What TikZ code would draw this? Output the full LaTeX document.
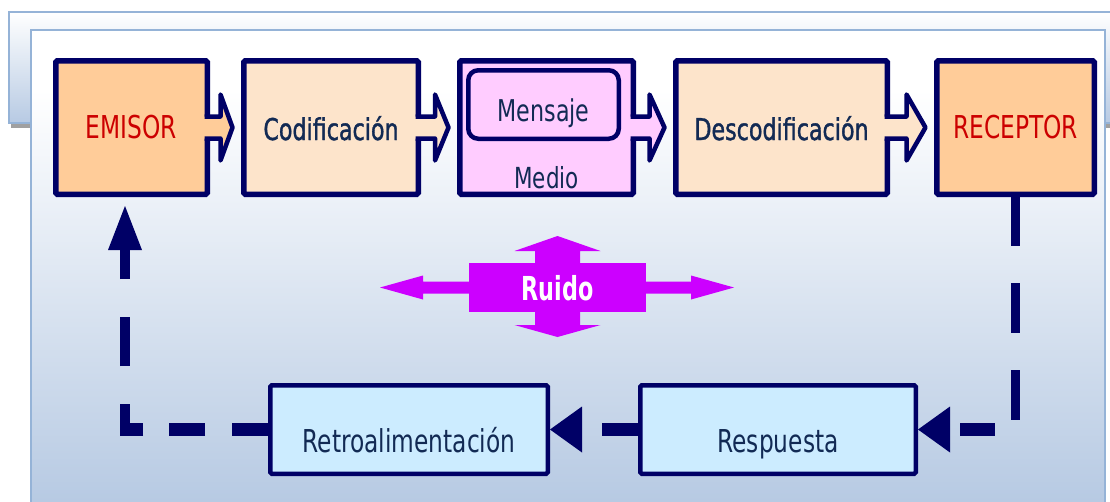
\documentclass[tikz,border=0pt]{standalone}
\usepackage{fontspec}
\usetikzlibrary{calc,arrows.meta}
\newfontfamily\labfont{DejaVu Sans}[FakeStretch=0.74]
\newfontfamily\labsemi{DejaVu Sans}[FakeStretch=0.74,FakeBold=1.2]
\newfontfamily\labbold{DejaVu Sans}[FakeStretch=0.675]

\definecolor{navy}{RGB}{0,0,102}
\definecolor{peach}{RGB}{255,204,153}
\definecolor{lightpeach}{RGB}{253,228,203}
\definecolor{pinkfill}{RGB}{255,204,255}
\definecolor{skyfill}{RGB}{204,236,255}
\definecolor{ruidofill}{RGB}{204,0,255}
\definecolor{labred}{RGB}{204,0,0}
\definecolor{labink}{RGB}{18,42,84}
\definecolor{panelline}{RGB}{149,179,215}
\definecolor{panelblue}{RGB}{183,202,227}
\definecolor{shadowgray}{RGB}{160,160,160}

% block arrow leaving box #1 towards box #2, filled with #3, shaft length #4
\newcommand\blockarrow[4]{%
  \fill[#3] ($(#1.east)+(-6,-11)$) -- ($(#1.east)+(#4,-11)$) -- ($(#1.east)+(#4,-33)$)
    -- ($(#2.west)+(-8.5,0)$) -- ($(#1.east)+(#4,33)$) -- ($(#1.east)+(#4,11)$)
    -- ($(#1.east)+(-6,11)$) -- cycle;
  \draw[chevline] ($(#1.east)+(-5.5,-11)$) -- ($(#1.east)+(#4,-11)$) -- ($(#1.east)+(#4,-33)$)
    -- ($(#2.west)+(-8.5,0)$) -- ($(#1.east)+(#4,33)$) -- ($(#1.east)+(#4,11)$)
    -- ($(#1.east)+(-5.5,11)$);}

\begin{document}
\begin{tikzpicture}[x=1pt, y=-1pt,
  topbox/.style={draw=navy, line width=5.5pt, rounded corners=1.5pt, inner sep=0pt,
    minimum height=133.5pt},
  redlabel/.style={text=labred, font=\labfont\fontsize{31.5}{36}\selectfont,
    text height=21pt, text depth=0pt},
  codelabel/.style={text=labink, font=\labsemi\fontsize{30}{36}\selectfont,
    text height=25pt, text depth=0pt},
  botbox/.style={draw=navy, line width=4.5pt, rounded corners=1.5pt, inner sep=0pt,
    fill=skyfill, minimum height=88.5pt, text=labink,
    font=\labfont\fontsize{31.5}{36}\selectfont, text height=45pt, text depth=0pt},
  chevline/.style={draw=navy, line width=4.5pt, line join=round},
  vdash/.style={draw=navy, line width=9.3pt},
  hdash/.style={draw=navy, line width=12.6pt},
  tipH/.style={-{Triangle[length=32pt,width=46pt,line width'=0pt]}},
  tipV/.style={-{Triangle[length=44pt,width=34pt,line width'=0pt]}}]

\useasboundingbox (0,0) rectangle (1110,501);
\clip (0,0) rectangle (1110,501);
\fill[white] (0,0) rectangle (1110,501);

% back panel with its shadow
\fill[shadowgray] (11,16) rectangle (1130,128);
\shade[top color=white, bottom color=panelblue] (9,12) rectangle (1125,123);
\draw[panelline, line width=2pt] (9,12) rectangle (1125,123);

% front panel
\fill[white] (31,30) rectangle (1105,520);
\shade[top color=white, bottom color=panelblue] (31,90) rectangle (1105,501);
\draw[panelline, line width=2pt] (31,30) rectangle (1105,520);

% upper chain
\node[topbox, fill=peach, redlabel, minimum width=151.5pt] (emisor) at (131.5,127.5) {EMISOR};
\node[topbox, fill=lightpeach, codelabel, minimum width=174.5pt] (codif) at (331,127.5) {Codificación};
\node[topbox, fill=pinkfill, text=labink, font=\labfont\fontsize{29}{34}\selectfont,
  text height=121pt, text depth=0pt, minimum width=173.5pt] (medio) at (546.5,127.5) {Medio};
\node[draw=navy, line width=4.5pt, rounded corners=10pt, fill=pinkfill, inner sep=0pt,
  minimum width=150.5pt, minimum height=68.5pt, text=labink,
  font=\labfont\fontsize{30}{36}\selectfont, text height=33pt, text depth=0pt]
  (mensaje) at (543.5,104.5) {Mensaje};
\node[topbox, fill=lightpeach, codelabel, minimum width=211.5pt] (descod) at (781.5,127.5) {Descodificación};
\node[topbox, fill=peach, redlabel, minimum width=157.5pt] (receptor) at (1015.5,127.5) {RECEPTOR};

\blockarrow{emisor}{codif}{peach}{10.5}
\blockarrow{codif}{medio}{lightpeach}{14}
\blockarrow{medio}{descod}{pinkfill}{13.5}
\blockarrow{descod}{receptor}{lightpeach}{16.5}

% noise
\node[fill=ruidofill, inner sep=0pt, minimum width=177pt, minimum height=49pt, text=white,
  font=\labbold\bfseries\fontsize{33}{38}\selectfont, text height=25pt, text depth=0pt]
  (ruido) at (557.5,287.5) {Ruido};
\begin{scope}[shift={(ruido.center)}]
  \fill[ruidofill] (-88,-6) -- (-134.5,-6) -- (-134.5,-12) -- (-177.5,0)
    -- (-134.5,12) -- (-134.5,6) -- (-88,6) -- cycle;
  \fill[ruidofill] (88,-6) -- (133.5,-6) -- (133.5,-12) -- (176.5,0)
    -- (133.5,12) -- (133.5,6) -- (88,6) -- cycle;
  \fill[ruidofill] (-22.5,-24) -- (-22.5,-36.5) -- (-43,-36.5) -- (0,-51.5)
    -- (43,-36.5) -- (22.5,-36.5) -- (22.5,-24) -- cycle;
  \fill[ruidofill] (-22.5,24) -- (-22.5,37.5) -- (-43,37.5) -- (0,49.5)
    -- (43,37.5) -- (22.5,37.5) -- (22.5,24) -- cycle;
\end{scope}

% lower chain
\node[botbox, minimum width=277.5pt] (retro) at (409,429.5) {Retroalimentación};
\node[botbox, minimum width=275.5pt] (resp) at (778,429.5) {Respuesta};

% feedback loop
\coordinate (rcorner) at (receptor.south |- resp.east);
\draw[vdash, dash pattern=on 49pt off 37pt on 50pt off 37pt on 50pt off 60pt]
  (receptor.south) -- (rcorner);
\draw[hdash, dash pattern=on 35pt off 29pt, dash phase=43pt, tipH] (rcorner) -- (resp.east);

\draw[hdash, dash pattern=on 36pt off 60pt, tipH] (resp.west) -- (retro.east);

\coordinate (fbH) at (120.35,429.5);
\coordinate (fbV) at (125,435.8);
\draw[hdash, dash pattern=on 36pt off 27pt on 36pt off 26pt on 40pt] (retro.west) -- (fbH);
\draw[vdash, dash pattern=on 31.8pt off 38pt on 49pt off 38pt on 80pt, tipV, shorten >=9pt]
  (fbV) -- (fbV |- emisor.south);
\end{tikzpicture}
\end{document}
